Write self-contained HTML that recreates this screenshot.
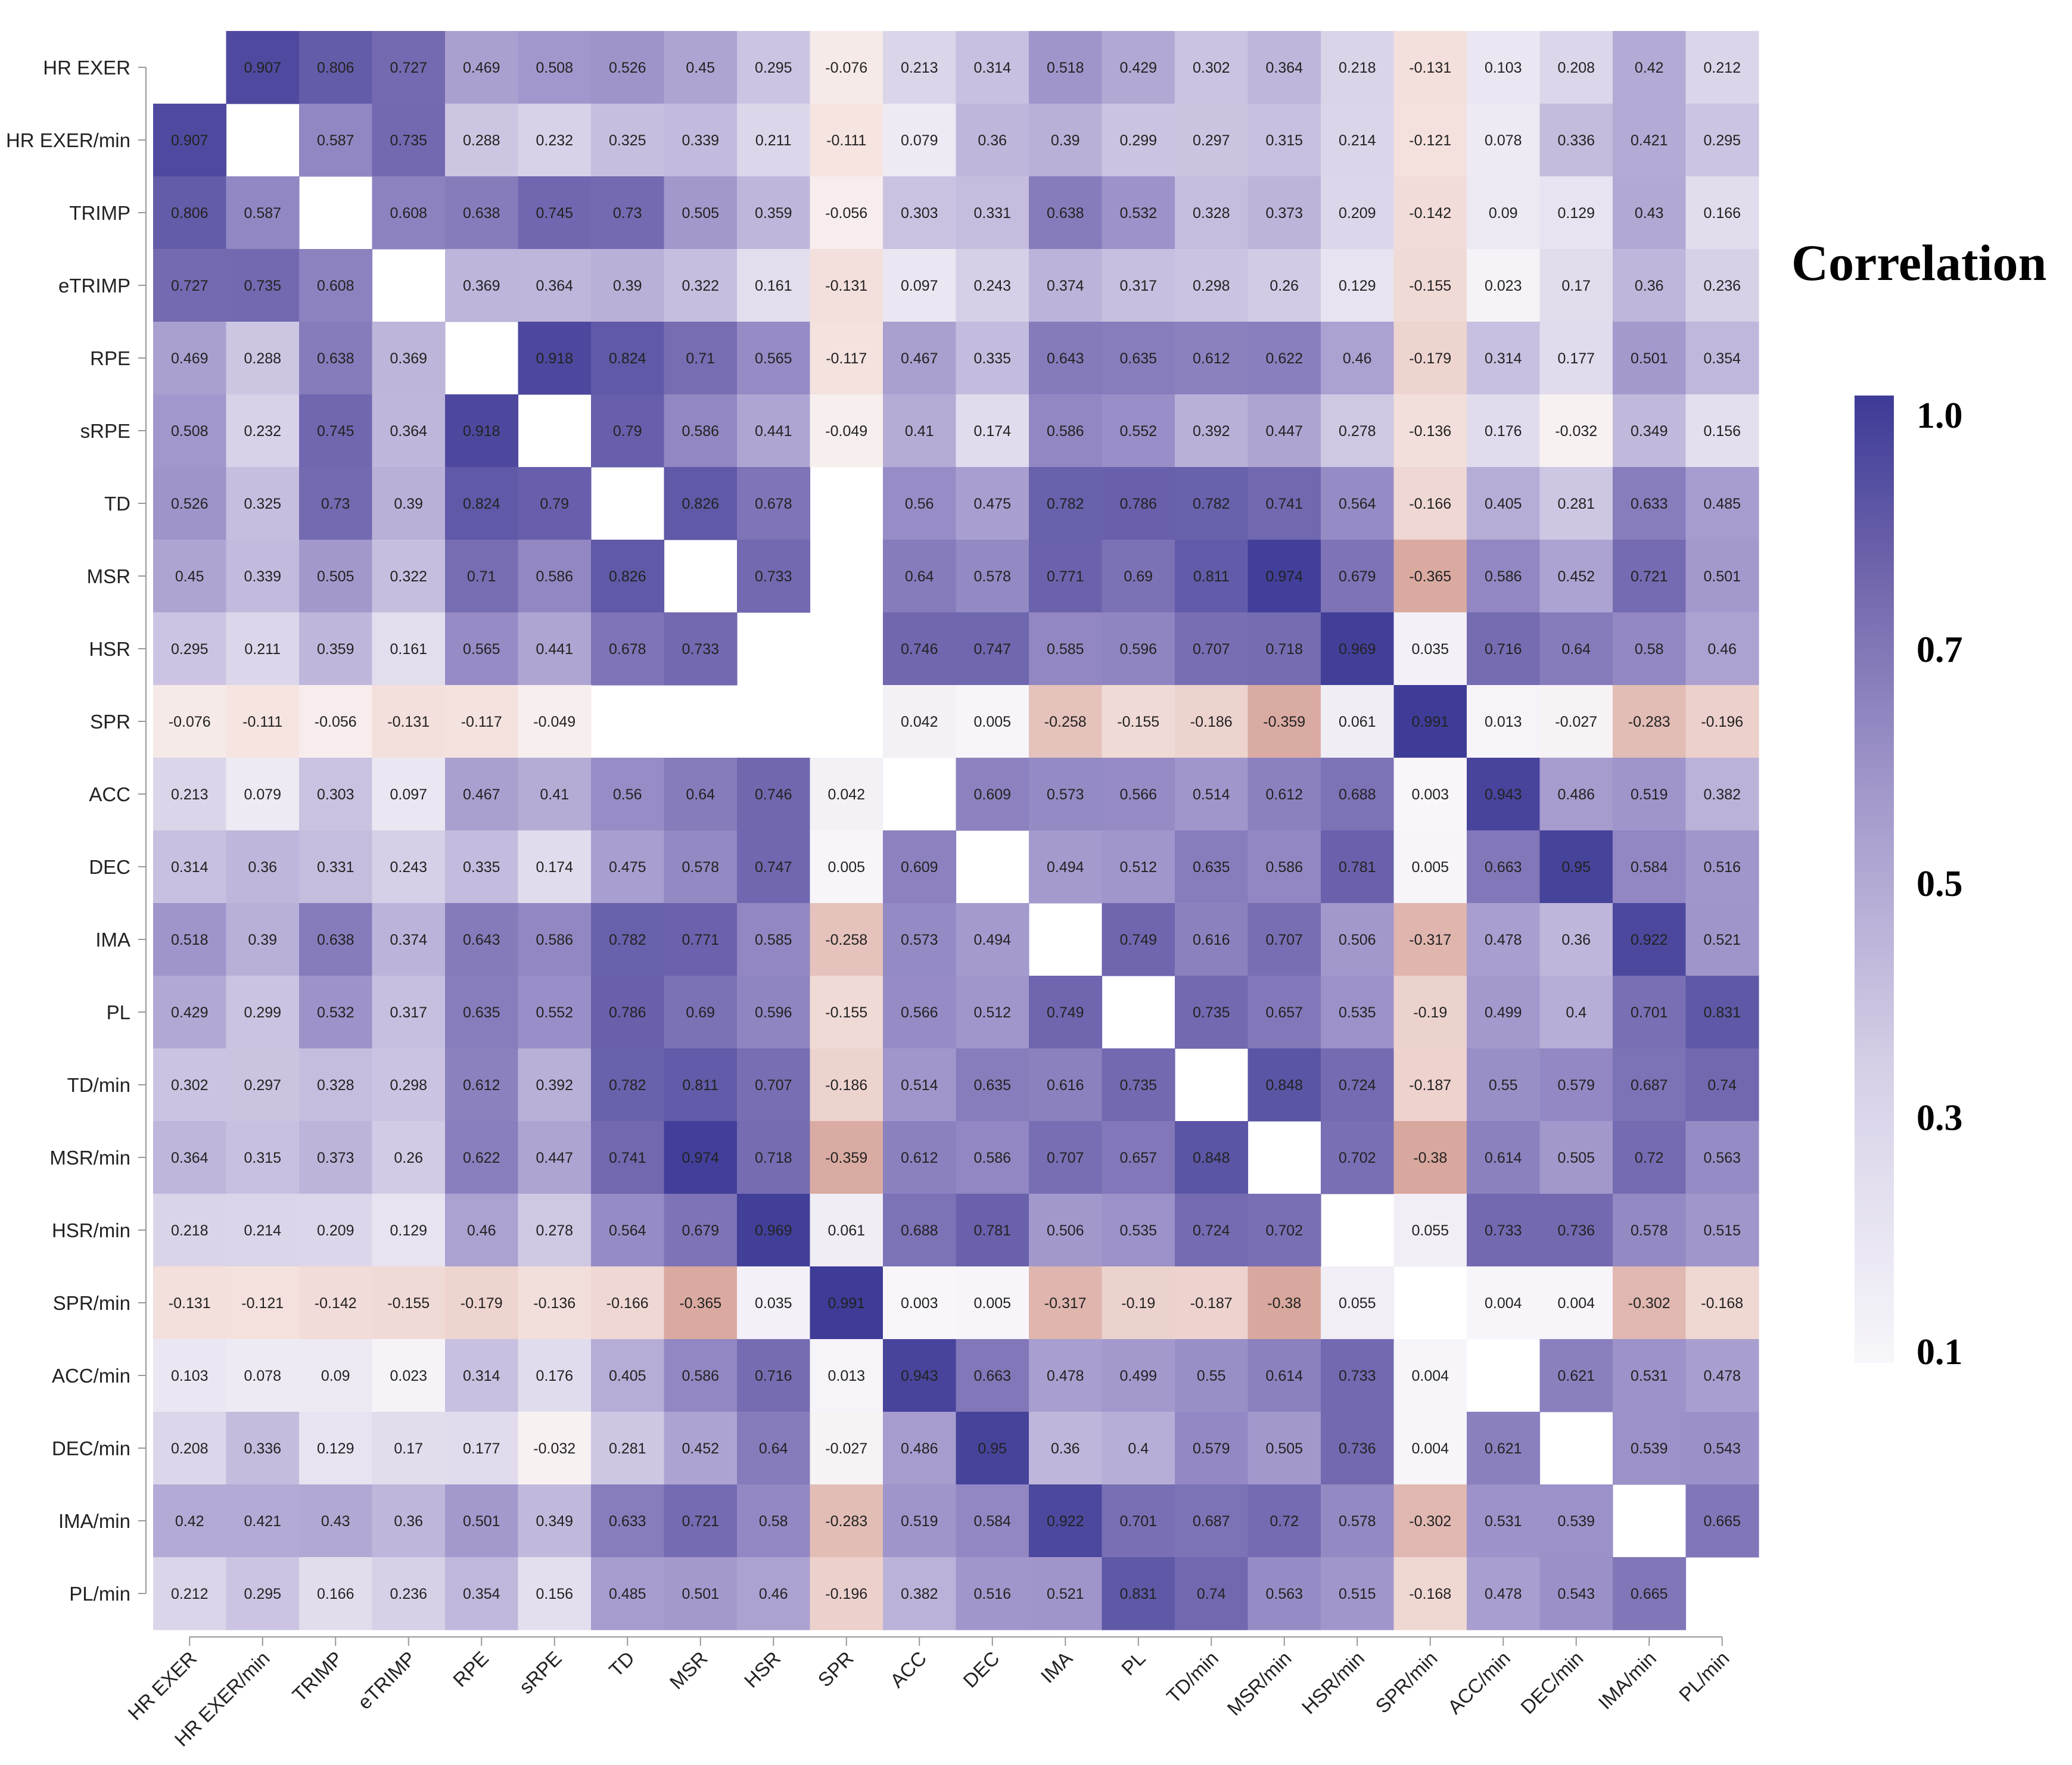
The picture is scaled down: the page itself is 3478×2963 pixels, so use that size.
<!DOCTYPE html>
<html><head><meta charset="utf-8"><style>
body{margin:0;background:#fff}
svg{display:block}
.rl{font-family:"Liberation Sans Narrow","Liberation Sans",sans-serif;font-size:33px;fill:#222}
.v{font-family:"Liberation Sans",sans-serif;font-size:25px;fill:#222}
.lg{font-family:"Liberation Serif",serif;font-weight:bold;fill:#000}
</style></head><body>
<svg id="chart" width="3478" height="2963" xmlns="http://www.w3.org/2000/svg">
<defs><linearGradient id="lgrad" x1="0" y1="1" x2="0" y2="0">
<stop offset="0" stop-color="#f7f6fa"/><stop offset="0.3" stop-color="#d6d0e7"/><stop offset="0.6" stop-color="#a096ca"/><stop offset="0.8" stop-color="#7469ae"/><stop offset="1" stop-color="#3d3b97"/></linearGradient></defs>
<g id="cells"></g><g id="axes"></g>
<text class="lg" x="3007" y="470" font-size="86">Correlation</text>
<rect x="3113" y="664" width="66" height="1624" fill="url(#lgrad)"/>
<g id="legend"></g>
</svg>
<script>
const labels=["HR EXER","HR EXER/min","TRIMP","eTRIMP","RPE","sRPE","TD","MSR","HSR","SPR","ACC","DEC","IMA","PL","TD/min","MSR/min","HSR/min","SPR/min","ACC/min","DEC/min","IMA/min","PL/min"];
const N=null;
const values=[
[N,0.907,0.806,0.727,0.469,0.508,0.526,0.45,0.295,-0.076,0.213,0.314,0.518,0.429,0.302,0.364,0.218,-0.131,0.103,0.208,0.42,0.212],
[0.907,N,0.587,0.735,0.288,0.232,0.325,0.339,0.211,-0.111,0.079,0.36,0.39,0.299,0.297,0.315,0.214,-0.121,0.078,0.336,0.421,0.295],
[0.806,0.587,N,0.608,0.638,0.745,0.73,0.505,0.359,-0.056,0.303,0.331,0.638,0.532,0.328,0.373,0.209,-0.142,0.09,0.129,0.43,0.166],
[0.727,0.735,0.608,N,0.369,0.364,0.39,0.322,0.161,-0.131,0.097,0.243,0.374,0.317,0.298,0.26,0.129,-0.155,0.023,0.17,0.36,0.236],
[0.469,0.288,0.638,0.369,N,0.918,0.824,0.71,0.565,-0.117,0.467,0.335,0.643,0.635,0.612,0.622,0.46,-0.179,0.314,0.177,0.501,0.354],
[0.508,0.232,0.745,0.364,0.918,N,0.79,0.586,0.441,-0.049,0.41,0.174,0.586,0.552,0.392,0.447,0.278,-0.136,0.176,-0.032,0.349,0.156],
[0.526,0.325,0.73,0.39,0.824,0.79,N,0.826,0.678,N,0.56,0.475,0.782,0.786,0.782,0.741,0.564,-0.166,0.405,0.281,0.633,0.485],
[0.45,0.339,0.505,0.322,0.71,0.586,0.826,N,0.733,N,0.64,0.578,0.771,0.69,0.811,0.974,0.679,-0.365,0.586,0.452,0.721,0.501],
[0.295,0.211,0.359,0.161,0.565,0.441,0.678,0.733,N,N,0.746,0.747,0.585,0.596,0.707,0.718,0.969,0.035,0.716,0.64,0.58,0.46],
[-0.076,-0.111,-0.056,-0.131,-0.117,-0.049,N,N,N,N,0.042,0.005,-0.258,-0.155,-0.186,-0.359,0.061,0.991,0.013,-0.027,-0.283,-0.196],
[0.213,0.079,0.303,0.097,0.467,0.41,0.56,0.64,0.746,0.042,N,0.609,0.573,0.566,0.514,0.612,0.688,0.003,0.943,0.486,0.519,0.382],
[0.314,0.36,0.331,0.243,0.335,0.174,0.475,0.578,0.747,0.005,0.609,N,0.494,0.512,0.635,0.586,0.781,0.005,0.663,0.95,0.584,0.516],
[0.518,0.39,0.638,0.374,0.643,0.586,0.782,0.771,0.585,-0.258,0.573,0.494,N,0.749,0.616,0.707,0.506,-0.317,0.478,0.36,0.922,0.521],
[0.429,0.299,0.532,0.317,0.635,0.552,0.786,0.69,0.596,-0.155,0.566,0.512,0.749,N,0.735,0.657,0.535,-0.19,0.499,0.4,0.701,0.831],
[0.302,0.297,0.328,0.298,0.612,0.392,0.782,0.811,0.707,-0.186,0.514,0.635,0.616,0.735,N,0.848,0.724,-0.187,0.55,0.579,0.687,0.74],
[0.364,0.315,0.373,0.26,0.622,0.447,0.741,0.974,0.718,-0.359,0.612,0.586,0.707,0.657,0.848,N,0.702,-0.38,0.614,0.505,0.72,0.563],
[0.218,0.214,0.209,0.129,0.46,0.278,0.564,0.679,0.969,0.061,0.688,0.781,0.506,0.535,0.724,0.702,N,0.055,0.733,0.736,0.578,0.515],
[-0.131,-0.121,-0.142,-0.155,-0.179,-0.136,-0.166,-0.365,0.035,0.991,0.003,0.005,-0.317,-0.19,-0.187,-0.38,0.055,N,0.004,0.004,-0.302,-0.168],
[0.103,0.078,0.09,0.023,0.314,0.176,0.405,0.586,0.716,0.013,0.943,0.663,0.478,0.499,0.55,0.614,0.733,0.004,N,0.621,0.531,0.478],
[0.208,0.336,0.129,0.17,0.177,-0.032,0.281,0.452,0.64,-0.027,0.486,0.95,0.36,0.4,0.579,0.505,0.736,0.004,0.621,N,0.539,0.543],
[0.42,0.421,0.43,0.36,0.501,0.349,0.633,0.721,0.58,-0.283,0.519,0.584,0.922,0.701,0.687,0.72,0.578,-0.302,0.531,0.539,N,0.665],
[0.212,0.295,0.166,0.236,0.354,0.156,0.485,0.501,0.46,-0.196,0.382,0.516,0.521,0.831,0.74,0.563,0.515,-0.168,0.478,0.543,0.665,N]];
const legendTicks=["1.0","0.7","0.5","0.3","0.1"];

const NS="http://www.w3.org/2000/svg";
const X0=257,Y0=52,CW=122.5,CH=122.0;
function xPos(i){return X0+i*CW;}
function yPos(i){return Y0+i*CH;}
const stops=[[-0.4,[214,162,152]],[-0.1,[246,230,227]],[0,[248,246,249]],[0.2,[222,216,235]],[0.5,[164,153,205]],[0.7,[121,111,180]],[1.0,[60,58,150]]];
function color(v){
  v=Math.max(-0.4,Math.min(1,v));
  for(let k=0;k<stops.length-1;k++){
    const a=stops[k],b=stops[k+1];
    if(v<=b[0]){const t=(v-a[0])/(b[0]-a[0]);
      return "rgb("+a[1].map((c,j)=>Math.round(c+(b[1][j]-c)*t)).join(",")+")";}
  }
  return "rgb(60,58,150)";
}
function mk(tag,attrs,parent){const e=document.createElementNS(NS,tag);for(const k in attrs)e.setAttribute(k,attrs[k]);parent.appendChild(e);return e;}
const cells=document.getElementById("cells"),axes=document.getElementById("axes"),legend=document.getElementById("legend");
values.forEach((row,r)=>row.forEach((v,c)=>{
  if(v===null)return;
  const rect=mk("rect",{x:xPos(c),y:yPos(r),width:CW+0.6,height:CH+0.6,fill:color(v)},cells);
  
  
  const t=mk("text",{x:xPos(c)+CW/2,y:yPos(r)+CH/2+9,"text-anchor":"middle",class:"v"},cells);
  
  
  t.textContent=String(v);
}));
const yAxis=mk("line",{x1:245,y1:yPos(0)+CH/2,x2:245,y2:yPos(21)+CH/2,stroke:"#999","stroke-width":2},axes);


const xAxis=mk("line",{x1:xPos(0)+CW/2,y1:2748,x2:xPos(21)+CW/2,y2:2748,stroke:"#999","stroke-width":2},axes);


labels.forEach((l,i)=>{
  const cy=yPos(i)+CH/2;
  mk("line",{x1:232,y1:cy,x2:245,y2:cy,stroke:"#999","stroke-width":2},axes);
  const t=mk("text",{x:219,y:cy+12,"text-anchor":"end",class:"rl"},axes);
  
  
  t.textContent=l;
  const cx=xPos(i)+CW/2;
  mk("line",{x1:cx,y1:2748,x2:cx,y2:2763,stroke:"#999","stroke-width":2},axes);
  const tx=mk("text",{x:cx+14,y:2786,"text-anchor":"end",class:"rl",transform:"rotate(-45 "+(cx+14)+" 2786)"},axes);
  
  
  tx.textContent=l;
});
legendTicks.forEach((l,i)=>{
  const t=mk("text",{x:3217,y:718+i*393,class:"lg","font-size":"62"},legend);
  
  
  t.textContent=l;
});
</script>
</body></html>
